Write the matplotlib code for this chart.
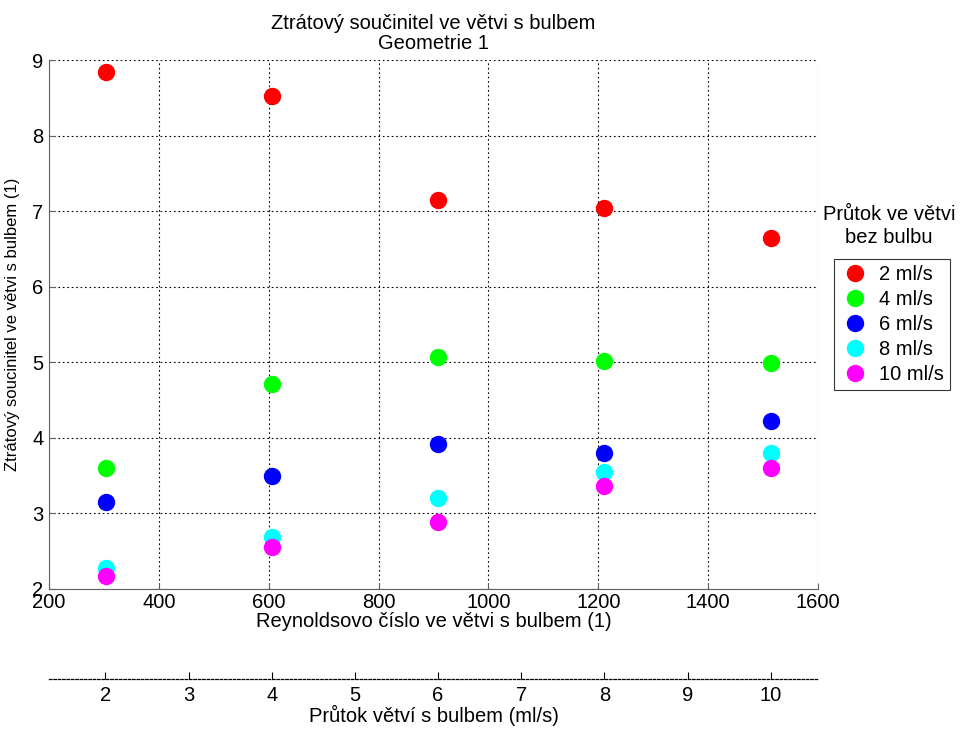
import matplotlib.pyplot as plt
import numpy as np

plt.rcParams["font.family"] = ["Liberation Sans", "DejaVu Sans"]

# flow in the bulb branch (ml/s) and the matching Reynolds number
flow_bulb = [2, 4, 6, 8, 10]
reynolds = [303, 606, 908, 1211, 1514]

# loss coefficient for each flow in the branch without bulb
flow_labels = ["2 ml/s", "4 ml/s", "6 ml/s", "8 ml/s", "10 ml/s"]
zeta = {
    "2 ml/s": [8.84, 8.52, 7.15, 7.04, 6.65],
    "4 ml/s": [3.60, 4.71, 5.07, 5.02, 4.99],
    "6 ml/s": [3.15, 3.50, 3.92, 3.80, 4.22],
    "8 ml/s": [2.28, 2.69, 3.21, 3.55, 3.80],
    "10 ml/s": [2.17, 2.56, 2.89, 3.36, 3.60],
}
colors = ["#ff0000", "#00ff00", "#0000ff", "#00ffff", "#ff00ff"]

FS = 14.5
W, H = 963, 729
fig = plt.figure(figsize=(W / 100, H / 100), dpi=100)

ax = fig.add_axes([49 / W, 1 - 589 / H, (818 - 49) / W, (589 - 60) / H])
for lab, c in zip(flow_labels, colors):
    ax.plot(reynolds, zeta[lab], "o", color=c, markeredgecolor=c,
            markersize=11.5, linestyle="none", label=lab, clip_on=False)

ax.set_xlim(200, 1600)
ax.set_ylim(2, 9)
ax.set_xticks(np.arange(200, 1601, 200))
ax.set_yticks(np.arange(2, 10, 1))
ax.grid(True, color="black", linestyle=(0, (1.5, 2.5)), linewidth=0.8)
ax.set_axisbelow(True)
for s in ["top", "right"]:
    ax.spines[s].set_visible(False)
ax.spines["left"].set_color("#606060")
ax.spines["bottom"].set_color("#606060")
ax.tick_params(direction="in", labelsize=FS, length=4, color="#606060")
ax.tick_params(axis="y", pad=4)
ax.tick_params(axis="x", pad=3)
ax.set_xlabel("Reynoldsovo číslo ve větvi s bulbem (1)", fontsize=FS, labelpad=0)
ax.set_ylabel("Ztrátový soucinitel ve větvi s bulbem (1)", fontsize=12)
ax.yaxis.set_label_coords(-0.038, 0.5)
ax.set_title("Ztrátový součinitel ve větvi s bulbem\nGeometrie 1", fontsize=FS,
             pad=8, linespacing=1.05)

# secondary axis with the flow in the bulb branch
scale = reynolds[-1] / flow_bulb[-1]
ax2 = fig.add_axes([49 / W, 1 - 679 / H, (818 - 49) / W, 1e-4])
ax2.set_xlim(200 / scale, 1600 / scale)
ax2.set_xticks(np.arange(2, 11, 1))
ax2.set_yticks([])
for s in ["top", "right", "left"]:
    ax2.spines[s].set_visible(False)
ax2.spines["bottom"].set_linestyle((0, (2, 1.5)))
ax2.spines["bottom"].set_linewidth(0.9)
ax2.tick_params(direction="in", labelsize=FS, length=5, pad=5)
ax2.set_xlabel("Průtok větví s bulbem (ml/s)", fontsize=FS, labelpad=0)

fig.text(889 / W, 1 - 226 / H, "Průtok ve větvi\nbez bulbu", ha="center",
         va="center", fontsize=FS, linespacing=1.3)
leg = fig.legend(loc="upper left", bbox_to_anchor=(834 / W, 1 - 259 / H),
                 fontsize=FS, frameon=True, fancybox=False, borderaxespad=0,
                 handletextpad=0.45, labelspacing=0.3, borderpad=0.3,
                 handlelength=1.5)
leg.get_frame().set_edgecolor("black")
leg.get_frame().set_linewidth(0.8)

fig.savefig("out.png", dpi=100)
